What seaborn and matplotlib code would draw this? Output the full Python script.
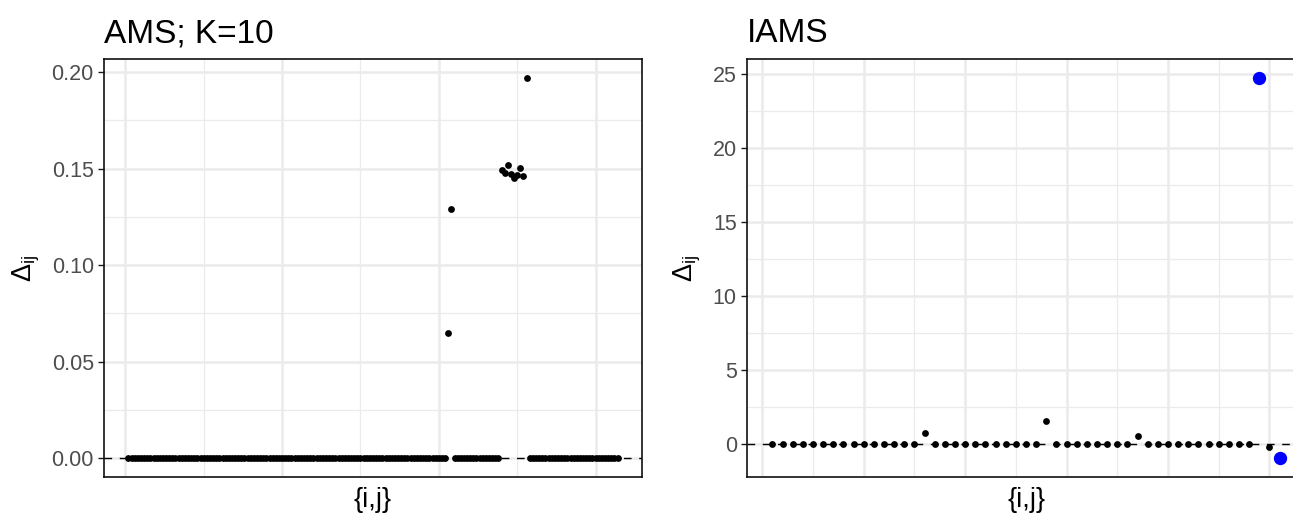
import numpy as np
import pandas as pd
import matplotlib
matplotlib.use("Agg")
import matplotlib.pyplot as plt
from matplotlib.ticker import MultipleLocator, NullFormatter, FormatStrFormatter
import seaborn as sns

# ---- data -------------------------------------------------------------
# AMS (K=10): Delta_ij for each pair {i,j}, in plotting order
ams_delta = ([0.0] * 102
             + [0.0646, 0.1292]
             + [0.0] * 15
             + [0.1491, 0.1477, 0.1517, 0.1473, 0.1451, 0.1466, 0.1505, 0.1461]
             + [0.1969]
             + [0.0] * 29)

# IAMS: Delta_ij for each pair {i,j}
iams_delta = ([0.0] * 15 + [0.79]
              + [0.0] * 11 + [1.56]
              + [0.0] * 8 + [0.56]
              + [0.0] * 11
              + [24.73, -0.16, -0.93])
# pairs flagged in the IAMS panel
iams_flag = [False] * 48 + [True, False, True]

titles = ["AMS; K=10", "IAMS"]
x_label = "{i,j}"
y_label = r"$\Delta_{\mathrm{ij}}$"

ams = pd.DataFrame({"pair": np.arange(1, len(ams_delta) + 1), "delta": ams_delta})
iams = pd.DataFrame({"pair": np.arange(1, len(iams_delta) + 1), "delta": iams_delta,
                     "flag": iams_flag})

# ---- style ------------------------------------------------------------
sns.set_theme(style="white")
plt.rcParams["font.family"] = ["Liberation Sans", "DejaVu Sans"]
plt.rcParams["mathtext.fontset"] = "custom"
plt.rcParams["mathtext.rm"] = "Liberation Sans"
plt.rcParams["mathtext.it"] = "Liberation Sans"

W, H = 1293, 516
fig = plt.figure(figsize=(W / 100, H / 100), dpi=100)
fig.patch.set_facecolor("white")

def px_axes(left, top, right, bottom):
    return fig.add_axes([left / W, 1 - bottom / H, (right - left) / W, (bottom - top) / H])

ax1 = px_axes(104, 59, 642, 477)
ax2 = px_axes(747, 59, 1305, 477)

grid_col = "#EBEBEB"

def style_axes(ax, xmaj, xmin, ymaj, ymin, title):
    ax.set_facecolor("white")
    ax.xaxis.set_major_locator(MultipleLocator(xmaj))
    ax.xaxis.set_minor_locator(MultipleLocator(xmin))
    ax.yaxis.set_major_locator(MultipleLocator(ymaj))
    ax.yaxis.set_minor_locator(MultipleLocator(ymin))
    ax.xaxis.set_major_formatter(NullFormatter())
    ax.grid(which="major", color=grid_col, linewidth=1.8, zorder=0)
    ax.grid(which="minor", color=grid_col, linewidth=0.9, zorder=0)
    ax.set_axisbelow(True)
    ax.tick_params(axis="x", which="both", length=0)
    ax.tick_params(axis="y", which="major", length=4.3, width=1.0, color="#1A1A1A",
                   labelsize=15.5, labelcolor="#4D4D4D", pad=3, left=True)
    ax.tick_params(axis="y", which="minor", length=0)
    for s in ax.spines.values():
        s.set_visible(True)
        s.set_color("#111111")
        s.set_linewidth(1.2)
    ax.set_title(title, loc="left", fontsize=24, color="black", pad=12)
    ax.set_xlabel(x_label, fontsize=19.5, color="black", labelpad=4)
    ax.set_ylabel(y_label, fontsize=19.5, color="black", labelpad=7)

# ---- left panel: AMS ----------------------------------------------------
ax1.axhline(0, color="black", linewidth=1.0, linestyle=(0, (5.5, 5.5)), zorder=1)
sns.scatterplot(data=ams, x="pair", y="delta", ax=ax1, color="black",
                s=24, linewidth=0, zorder=3, legend=False)
style_axes(ax1, 50, 25, 0.05, 0.025, titles[0])
ax1.yaxis.set_major_formatter(FormatStrFormatter("%.2f"))

# ---- right panel: IAMS --------------------------------------------------
ax2.axhline(0, color="black", linewidth=1.0, linestyle=(0, (5.5, 5.5)), zorder=1)
sns.scatterplot(data=iams[~iams["flag"]], x="pair", y="delta", ax=ax2, color="black",
                s=24, linewidth=0, zorder=3, legend=False)
sns.scatterplot(data=iams[iams["flag"]], x="pair", y="delta", ax=ax2, color="blue",
                s=92, linewidth=0, zorder=4, legend=False)
style_axes(ax2, 10, 5, 5, 2.5, titles[1])
ax2.set_xlim(iams["pair"].min() - 0.05 * (len(iams) - 1),
             iams["pair"].max() + 0.05 * (len(iams) - 1))
ax2.yaxis.set_major_formatter(FormatStrFormatter("%d"))

fig.savefig("out.png", dpi=100, facecolor="white")
